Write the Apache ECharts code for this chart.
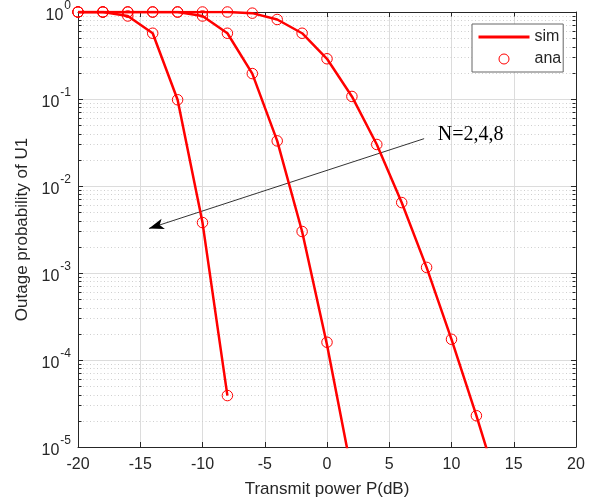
<!DOCTYPE html>
<html>
<head>
<meta charset="utf-8">
<script src="https://cdn.jsdelivr.net/npm/echarts@6/dist/echarts.min.js"></script>
<style>html,body{margin:0;padding:0;background:#fff}#c{width:598px;height:504px}</style>
</head>
<body>
<div id="c"></div>
<script>
// ---- data ----
const xN2 = [-20, -18, -16, -14, -12, -10, -8];
const simN2 = [1, 1, 0.9, 0.57, 0.098, 0.0038, 3.9e-5];
const anaN2 = [1, 1, 0.9, 0.57, 0.098, 0.0038, 3.9e-5];

const xN4 = [-20, -18, -16, -14, -12, -10, -8, -6, -4, -2, 0, 2];
const simN4 = [1, 1, 1, 1, 1, 0.9, 0.57, 0.196, 0.033, 0.003, 1.5e-4, 5e-6];
const anaN4 = [1, 1, 1, 1, 1, 0.9, 0.57, 0.196, 0.033, 0.003, 1.6e-4, 5e-6];

const xN8 = [-20, -18, -16, -14, -12, -10, -8, -6, -4, -2, 0, 2, 4, 6, 8, 10, 12, 14];
const simN8 = [1, 1, 1, 1, 1, 1, 1, 0.97, 0.82, 0.57, 0.29, 0.107, 0.03, 0.00645, 0.00116, 1.73e-4, 2.29e-5, 2.7e-6];
const anaN8 = [1, 1, 1, 1, 1, 1, 1, 0.97, 0.82, 0.57, 0.29, 0.107, 0.03, 0.00645, 0.00116, 1.73e-4, 2.29e-5, 2.7e-6];

const minorY = [];
for (let k = -5; k <= -1; k++) for (let m = 2; m <= 9; m++) minorY.push(m * Math.pow(10, k));

const arrowFrom = [7.8, 0.035];
const arrowTo = [-14.3, 0.00325];
const noteText = 'N=2,4,8';
const notePos = [8.9, 0.033];

// ---- chart ----
const pair = (xs, ys) => xs.map((x, i) => [x, ys[i]]);
const RED = '#ff0000';
const TXT = '#262626';
const FONT = 'Liberation Sans, Arial, Helvetica, sans-serif';

const chart = echarts.init(document.getElementById('c'), null, {renderer: 'canvas'});

const lineSeries = (xs, ys) => ({
  name: 'sim', type: 'line', data: pair(xs, ys), symbol: 'none',
  lineStyle: {color: RED, width: 2.5}, itemStyle: {color: RED}, z: 5, clip: true, animation: false
});
const anaSeries = (xs, ys) => ({
  name: 'ana', type: 'scatter', data: pair(xs, ys), symbol: 'circle', symbolSize: 10.5,
  itemStyle: {color: 'rgba(255,255,255,0)', borderColor: RED, borderWidth: 1, opacity: 1},
  z: 6, clip: true, animation: false
});

const option = {
  animation: false,
  backgroundColor: '#fff',
  textStyle: {fontFamily: FONT, color: TXT},
  grid: {left: 78, right: 22, top: 11, bottom: 57, containLabel: false},
  legend: {
    orient: 'vertical', left: 472, top: 24,
    data: [
      {name: 'sim', itemStyle: {opacity: 0}, lineStyle: {width: 3, color: RED}},
      {name: 'ana', icon: 'circle', itemStyle: {color: 'rgba(255,255,255,0)', borderColor: RED, borderWidth: 1}}
    ],
    itemWidth: 51, itemHeight: 10, itemGap: 6,
    padding: [5, 2, 5, 5],
    borderColor: '#666', borderWidth: 1, backgroundColor: '#fff',
    textStyle: {fontSize: 16, color: TXT, fontFamily: FONT},
    selectedMode: false, z: 20
  },
  xAxis: [{
    type: 'value', min: -20, max: 20, interval: 5,
    name: 'Transmit power P(dB)', nameLocation: 'middle', nameGap: 34,
    nameTextStyle: {fontSize: 17, color: TXT, fontFamily: FONT},
    axisLine: {show: true, onZero: false, lineStyle: {color: TXT, width: 1}},
    axisTick: {show: true, inside: true, length: 5, lineStyle: {color: TXT}},
    axisLabel: {fontSize: 16, color: TXT, margin: 10, fontFamily: FONT},
    splitLine: {show: true, lineStyle: {color: '#dcdcdc', width: 1}}
  }, {
    type: 'value', min: -20, max: 20, interval: 5, position: 'top',
    axisLine: {show: true, onZero: false, lineStyle: {color: TXT, width: 1}},
    axisTick: {show: true, inside: true, length: 5, lineStyle: {color: TXT}},
    axisLabel: {show: false}, splitLine: {show: false}
  }],
  yAxis: [{
    type: 'log', logBase: 10, min: 1e-5, max: 1,
    name: 'Outage probability of U1', nameLocation: 'middle', nameGap: 42,
    nameTextStyle: {fontSize: 17, color: TXT, fontFamily: FONT},
    axisLine: {show: true, onZero: false, lineStyle: {color: TXT, width: 1}},
    axisTick: {show: true, inside: true, length: 5, lineStyle: {color: TXT}},
    axisLabel: {
      margin: 7, color: TXT,
      formatter: v => '{b|10}{s|' + Math.round(Math.log10(v)) + '}',
      rich: {
        b: {fontSize: 16, color: TXT, fontFamily: FONT, verticalAlign: 'bottom', padding: [8, 0, 0, 0]},
        s: {fontSize: 12, color: TXT, fontFamily: FONT, verticalAlign: 'top', padding: [0, 0, 6, 1]}
      }
    },
    splitLine: {show: true, lineStyle: {color: '#dcdcdc', width: 1}}
  }, {
    type: 'log', logBase: 10, min: 1e-5, max: 1, position: 'right',
    axisLine: {show: true, onZero: false, lineStyle: {color: TXT, width: 1}},
    axisTick: {show: true, inside: true, length: 5, lineStyle: {color: TXT}},
    axisLabel: {show: false}, splitLine: {show: false}
  }],
  series: [
    {
      type: 'custom', name: 'minor', silent: true, z: 1, clip: false,
      data: minorY.map(v => [-20, v]),
      encode: {x: 0, y: 1},
      renderItem: (params, api) => {
        const v = api.value(1);
        const p1 = api.coord([-20, v]);
        const p2 = api.coord([20, v]);
        const y = Math.round(p1[1]) + 0.5;
        const xl = Math.round(p1[0]) + 0.5, xr = Math.round(p2[0]) - 0.5;
        return {
          type: 'group', children: [
            {type: 'line', shape: {x1: xl + 1, y1: y, x2: xr - 1, y2: y}, style: {stroke: '#cfcfcf', lineWidth: 1, lineDash: [1, 2.5]}},
            {type: 'line', shape: {x1: xl, y1: y, x2: xl + 3, y2: y}, style: {stroke: TXT, lineWidth: 1}},
            {type: 'line', shape: {x1: xr - 3, y1: y, x2: xr, y2: y}, style: {stroke: TXT, lineWidth: 1}}
          ]
        };
      }
    },
    lineSeries(xN2, simN2), lineSeries(xN4, simN4), lineSeries(xN8, simN8),
    anaSeries(xN2, anaN2), anaSeries(xN4, anaN4), anaSeries(xN8, anaN8),
    {
      type: 'line', name: 'annot', data: [], silent: true, z: 8,
      markLine: {
        silent: true, animation: false,
        symbol: ['none', 'arrow'], symbolSize: [8, 15],
        lineStyle: {color: '#000', width: 0.8, type: 'solid'},
        label: {show: false},
        data: [[{coord: arrowFrom}, {coord: arrowTo}]]
      }
    }
  ]
};
chart.setOption(option);

const np = chart.convertToPixel({xAxisIndex: 0, yAxisIndex: 0}, notePos);
chart.setOption({
  graphic: [{
    type: 'text', x: np[0], y: np[1] - 6, z: 30,
    style: {text: noteText, font: '20px "Liberation Serif", "Times New Roman", serif', fill: '#000', textVerticalAlign: 'middle', textAlign: 'left'}
  }]
});
</script>
</body>
</html>
